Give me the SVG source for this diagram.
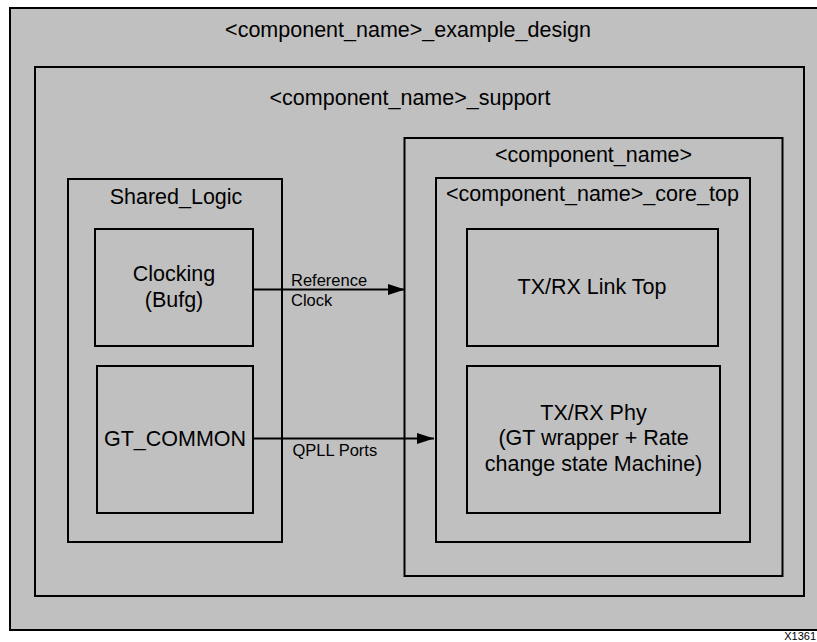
<svg xmlns="http://www.w3.org/2000/svg" width="817" height="642" viewBox="0 0 817 642">
<style>
.box{fill:#c0c0c0;stroke:#000;stroke-width:2}
.t{font-family:"Liberation Sans",Arial,sans-serif;font-size:21.5px;fill:#000;text-anchor:middle}
.lbl{font-family:"Liberation Sans",Arial,sans-serif;font-size:16.5px;fill:#000}
.con{stroke:#000;stroke-width:2;fill:none}
</style>
<defs>
<marker id="ah" markerUnits="userSpaceOnUse" markerWidth="18" markerHeight="12" refX="17" refY="5.5" orient="auto">
<polygon points="0,0 17,5.5 0,11" fill="#000"/>
</marker>
</defs>
<rect width="817" height="642" fill="#fff"/>
<g id="example_design">
<rect class="box" x="10" y="8" width="820" height="622"/>
<text class="t" x="408" y="36.5">&lt;component_name&gt;_example_design</text>
</g>
<g id="support">
<rect class="box" x="35" y="67" width="769" height="529"/>
<text class="t" x="410" y="105">&lt;component_name&gt;_support</text>
</g>
<g id="shared_logic">
<rect class="box" x="68" y="179" width="214" height="363"/>
<text class="t" x="176" y="204">Shared_Logic</text>
</g>
<g id="clocking">
<rect class="box" x="95" y="229" width="158" height="117"/>
<text class="t" x="174" y="280.5">Clocking</text>
<text class="t" x="174" y="306.5">(Bufg)</text>
</g>
<g id="gt_common">
<rect class="box" x="97" y="366" width="156" height="147"/>
<text class="t" x="175" y="446">GT_COMMON</text>
</g>
<g id="component_name">
<rect class="box" x="404.5" y="138" width="378" height="438"/>
<text class="t" x="593.5" y="161.5">&lt;component_name&gt;</text>
</g>
<g id="core_top">
<rect class="box" x="436" y="178" width="314" height="364"/>
<text class="t" x="592.5" y="201">&lt;component_name&gt;_core_top</text>
</g>
<g id="link_top">
<rect class="box" x="467" y="229" width="251" height="117"/>
<text class="t" x="592" y="293.5">TX/RX Link Top</text>
</g>
<g id="phy">
<rect class="box" x="467" y="366" width="253" height="147"/>
<text class="t" x="593.5" y="419.5">TX/RX Phy</text>
<text class="t" x="593.5" y="445">(GT wrapper + Rate</text>
<text class="t" x="593.5" y="470.5">change state Machine)</text>
</g>
<g id="connectors">
<line class="con" x1="254" y1="289.5" x2="405" y2="289.5" marker-end="url(#ah)"/>
<text class="lbl" x="291" y="285.5">Reference</text>
<text class="lbl" x="291" y="305.5">Clock</text>
<line class="con" x1="254" y1="438.5" x2="434" y2="438.5" marker-end="url(#ah)"/>
<text class="lbl" x="292.5" y="455.5">QPLL Ports</text>
</g>
<text x="816" y="640" style="font-family:'Liberation Sans',Arial,sans-serif;font-size:11px;fill:#000;text-anchor:end">X1361</text>
</svg>
